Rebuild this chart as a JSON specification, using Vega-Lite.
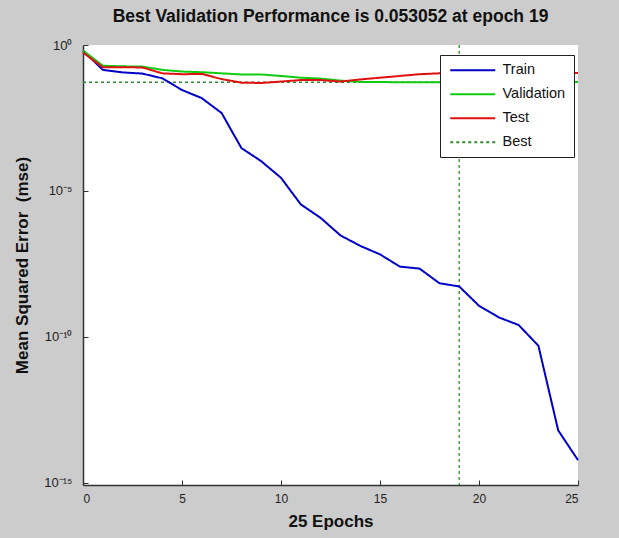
{
  "$schema": "https://vega.github.io/schema/vega-lite/v6.json",
  "width": 495,
  "height": 440,
  "autosize": {"type": "none"},
  "padding": {"left": 83, "top": 45, "right": 41, "bottom": 53},
  "background": "#cccccc",
  "title": {
    "text": "Best Validation Performance is 0.053052 at epoch 19",
    "font": "Liberation Sans",
    "fontSize": 17.5,
    "fontWeight": "bold",
    "color": "#111111",
    "offset": 14,
    "anchor": "middle",
    "frame": "group"
  },
  "datasets": {
    "perf": [
      {"epoch": 0, "series": "Train", "mse": 0.65},
      {"epoch": 1, "series": "Train", "mse": 0.141},
      {"epoch": 2, "series": "Train", "mse": 0.115},
      {"epoch": 3, "series": "Train", "mse": 0.105},
      {"epoch": 4, "series": "Train", "mse": 0.0724},
      {"epoch": 5, "series": "Train", "mse": 0.0288},
      {"epoch": 6, "series": "Train", "mse": 0.0151},
      {"epoch": 7, "series": "Train", "mse": 0.00468},
      {"epoch": 8, "series": "Train", "mse": 0.000295},
      {"epoch": 9, "series": "Train", "mse": 0.000105},
      {"epoch": 10, "series": "Train", "mse": 2.82e-5},
      {"epoch": 11, "series": "Train", "mse": 3.47e-6},
      {"epoch": 12, "series": "Train", "mse": 1.2e-6},
      {"epoch": 13, "series": "Train", "mse": 3.02e-7},
      {"epoch": 14, "series": "Train", "mse": 1.32e-7},
      {"epoch": 15, "series": "Train", "mse": 6.76e-8},
      {"epoch": 16, "series": "Train", "mse": 2.57e-8},
      {"epoch": 17, "series": "Train", "mse": 2.19e-8},
      {"epoch": 18, "series": "Train", "mse": 6.92e-9},
      {"epoch": 19, "series": "Train", "mse": 5.37e-9},
      {"epoch": 20, "series": "Train", "mse": 1.17e-9},
      {"epoch": 21, "series": "Train", "mse": 4.68e-10},
      {"epoch": 22, "series": "Train", "mse": 2.57e-10},
      {"epoch": 23, "series": "Train", "mse": 5.01e-11},
      {"epoch": 24, "series": "Train", "mse": 6.31e-14},
      {"epoch": 25, "series": "Train", "mse": 6.03e-15},
      {"epoch": 0, "series": "Validation", "mse": 0.65},
      {"epoch": 1, "series": "Validation", "mse": 0.195},
      {"epoch": 2, "series": "Validation", "mse": 0.186},
      {"epoch": 3, "series": "Validation", "mse": 0.182},
      {"epoch": 4, "series": "Validation", "mse": 0.141},
      {"epoch": 5, "series": "Validation", "mse": 0.123},
      {"epoch": 6, "series": "Validation", "mse": 0.117},
      {"epoch": 7, "series": "Validation", "mse": 0.107},
      {"epoch": 8, "series": "Validation", "mse": 0.0977},
      {"epoch": 9, "series": "Validation", "mse": 0.0977},
      {"epoch": 10, "series": "Validation", "mse": 0.0871},
      {"epoch": 11, "series": "Validation", "mse": 0.0759},
      {"epoch": 12, "series": "Validation", "mse": 0.0708},
      {"epoch": 13, "series": "Validation", "mse": 0.0603},
      {"epoch": 14, "series": "Validation", "mse": 0.0545},
      {"epoch": 15, "series": "Validation", "mse": 0.0536},
      {"epoch": 16, "series": "Validation", "mse": 0.0534},
      {"epoch": 17, "series": "Validation", "mse": 0.0533},
      {"epoch": 18, "series": "Validation", "mse": 0.0532},
      {"epoch": 19, "series": "Validation", "mse": 0.053052},
      {"epoch": 20, "series": "Validation", "mse": 0.0532},
      {"epoch": 21, "series": "Validation", "mse": 0.0535},
      {"epoch": 22, "series": "Validation", "mse": 0.0536},
      {"epoch": 23, "series": "Validation", "mse": 0.0538},
      {"epoch": 24, "series": "Validation", "mse": 0.054},
      {"epoch": 25, "series": "Validation", "mse": 0.0541},
      {"epoch": 0, "series": "Test", "mse": 0.55},
      {"epoch": 1, "series": "Test", "mse": 0.174},
      {"epoch": 2, "series": "Test", "mse": 0.174},
      {"epoch": 3, "series": "Test", "mse": 0.17},
      {"epoch": 4, "series": "Test", "mse": 0.107},
      {"epoch": 5, "series": "Test", "mse": 0.1},
      {"epoch": 6, "series": "Test", "mse": 0.102},
      {"epoch": 7, "series": "Test", "mse": 0.068},
      {"epoch": 8, "series": "Test", "mse": 0.0513},
      {"epoch": 9, "series": "Test", "mse": 0.05},
      {"epoch": 10, "series": "Test", "mse": 0.056},
      {"epoch": 11, "series": "Test", "mse": 0.063},
      {"epoch": 12, "series": "Test", "mse": 0.063},
      {"epoch": 13, "series": "Test", "mse": 0.056},
      {"epoch": 14, "series": "Test", "mse": 0.066},
      {"epoch": 15, "series": "Test", "mse": 0.076},
      {"epoch": 16, "series": "Test", "mse": 0.087},
      {"epoch": 17, "series": "Test", "mse": 0.1},
      {"epoch": 18, "series": "Test", "mse": 0.107},
      {"epoch": 19, "series": "Test", "mse": 0.108},
      {"epoch": 20, "series": "Test", "mse": 0.108},
      {"epoch": 21, "series": "Test", "mse": 0.109},
      {"epoch": 22, "series": "Test", "mse": 0.109},
      {"epoch": 23, "series": "Test", "mse": 0.11},
      {"epoch": 24, "series": "Test", "mse": 0.11},
      {"epoch": 25, "series": "Test", "mse": 0.11}
    ],
    "bestEpoch": [{"epoch": 19, "series": "Best"}],
    "bestPerf": [{"mse": 0.053052, "series": "Best"}]
  },
  "encoding": {
    "color": {
      "field": "series",
      "type": "nominal",
      "title": null,
      "scale": {
        "domain": ["Train", "Validation", "Test", "Best"],
        "range": ["#0000c8", "#10cc10", "#e01010", "#2e8b2e"]
      }
    },
    "strokeDash": {
      "field": "series",
      "type": "nominal",
      "title": null,
      "scale": {
        "domain": ["Train", "Validation", "Test", "Best"],
        "range": [[1, 0], [1, 0], [1, 0], [3, 3]]
      }
    }
  },
  "layer": [
    {
      "data": {"name": "bestEpoch"},
      "mark": {"type": "rule", "strokeWidth": 1.3},
      "encoding": {
        "x": {"field": "epoch", "type": "quantitative"}
      }
    },
    {
      "data": {"name": "bestPerf"},
      "mark": {"type": "rule", "strokeWidth": 1.3},
      "encoding": {
        "y": {"field": "mse", "type": "quantitative"}
      }
    },
    {
      "data": {"name": "perf"},
      "mark": {"type": "line", "strokeWidth": 2},
      "encoding": {
        "x": {
          "field": "epoch",
          "type": "quantitative",
          "title": "25 Epochs",
          "scale": {"domain": [0, 25], "nice": false, "zero": false},
          "axis": {"values": [0, 5, 10, 15, 20, 25], "format": "d", "titlePadding": 9, "labelPadding": 13}
        },
        "y": {
          "field": "mse",
          "type": "quantitative",
          "title": "Mean Squared Error \u00a0(mse)",
          "scale": {"type": "log", "domain": [8.5e-16, 1], "nice": false},
          "axis": {
            "values": [1e-15, 1e-10, 1e-5, 1],
            "labelExpr": "datum.value >= 0.5 ? '10⁰' : datum.value > 1e-6 ? '10⁻⁵' : datum.value > 1e-11 ? '10⁻¹⁰' : '10⁻¹⁵'",
            "labelFontSize": 13,
            "labelPadding": 16,
            "titlePadding": 12
          }
        }
      }
    }
  ],
  "config": {
    "view": {"fill": "white", "stroke": null},
    "axis": {
      "grid": false,
      "domainColor": "#333333",
      "domainWidth": 1.5,
      "tickColor": "#333333",
      "tickSize": -5,
      "labelFont": "Liberation Sans",
      "labelFontSize": 12,
      "labelColor": "#222222",
      "titleFont": "Liberation Sans",
      "titleFontSize": 17,
      "titleFontWeight": "bold",
      "titleColor": "#111111"
    },
    "legend": {
      "orient": "none",
      "legendX": 357,
      "legendY": 10,
      "padding": 8,
      "rowPadding": 9,
      "fillColor": "white",
      "strokeColor": "#222222",
      "symbolType": "M-1,0H8",
      "symbolSize": 100,
      "symbolStrokeWidth": 2,
      "labelFont": "Liberation Sans",
      "labelFontSize": 14.5,
      "labelColor": "#111111",
      "labelOffset": 40
    }
  }
}
